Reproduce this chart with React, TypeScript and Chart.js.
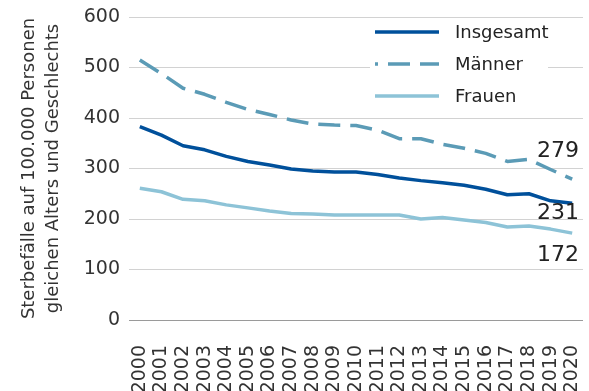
import React, { useEffect, useRef } from "react";
import { Chart, registerables } from "chart.js";

Chart.register(...registerables);

const years = ["2000","2001","2002","2003","2004","2005","2006","2007","2008","2009","2010","2011","2012","2013","2014","2015","2016","2017","2018","2019","2020"];
const insgesamt = [383, 366, 345, 337, 324, 314, 307, 299, 295, 293, 293, 288, 281, 276, 272, 267, 259, 248, 250, 236, 231];
const maenner = [515, 488, 459, 447, 431, 417, 407, 396, 388, 386, 385, 376, 359, 359, 348, 340, 330, 314, 318, 298, 279];
const frauen = [261, 254, 239, 236, 228, 222, 216, 211, 210, 208, 208, 208, 208, 200, 203, 198, 193, 184, 186, 180, 172];
const seriesNames = ["Insgesamt", "Männer", "Frauen"];
const endLabels = ["231", "279", "172"];
const yTitle = ["Sterbefälle auf 100.000 Personen", "gleichen Alters und Geschlechts"];

const colors = ["#00509b", "#5b9bb6", "#8dc3d7"];
const FONT = "'DejaVu Sans', sans-serif";

const overlayPlugin = {
  id: "overlay",
  afterDatasetsDraw(chart: any) {
    const ctx = chart.ctx;
    ctx.save();
    ctx.fillStyle = "#ffffff";
    ctx.fillRect(370, 20, 178, 94);
    const rows = [32, 64, 96];
    seriesNames.forEach((name, i) => {
      ctx.beginPath();
      ctx.lineWidth = 3.5;
      ctx.strokeStyle = colors[i];
      ctx.lineCap = "butt";
      if (i === 1) {
        ctx.setLineDash([22, 10]);
        ctx.lineDashOffset = 19;
      } else {
        ctx.setLineDash([]);
      }
      ctx.moveTo(375, rows[i]);
      ctx.lineTo(439, rows[i]);
      ctx.stroke();
      ctx.setLineDash([]);
      ctx.fillStyle = "#222222";
      ctx.font = `18px ${FONT}`;
      ctx.textAlign = "left";
      ctx.textBaseline = "middle";
      ctx.fillText(name, 455, rows[i] + 1);
    });
    const y = chart.scales.y;
    const offs = [10, -28, 22];
    const vals = [insgesamt[insgesamt.length - 1], maenner[maenner.length - 1], frauen[frauen.length - 1]];
    ctx.font = `22px ${FONT}`;
    ctx.fillStyle = "#222222";
    ctx.textAlign = "right";
    ctx.textBaseline = "middle";
    endLabels.forEach((t, i) => {
      ctx.fillText(t, 579, y.getPixelForValue(vals[i]) + offs[i]);
    });
    ctx.restore();
  },
};

export default function App() {
  const ref = useRef<HTMLCanvasElement>(null);
  useEffect(() => {
    if (!ref.current) return;
    const chart = new Chart(ref.current, {
      type: "line",
      data: {
        labels: years,
        datasets: [
          { label: seriesNames[0], data: insgesamt, borderColor: colors[0], borderWidth: 3.5, pointRadius: 0, borderJoinStyle: "round" },
          { label: seriesNames[1], data: maenner, borderColor: colors[1], borderWidth: 3.5, pointRadius: 0, borderDash: [22, 10], borderJoinStyle: "round" },
          { label: seriesNames[2], data: frauen, borderColor: colors[2], borderWidth: 3.5, pointRadius: 0, borderJoinStyle: "round" },
        ],
      },
      options: {
        animation: false,
        responsive: true,
        maintainAspectRatio: false,
        layout: { padding: { left: 0, right: 6, top: 17, bottom: 0 } },
        plugins: { legend: { display: false }, tooltip: { enabled: false } },
        scales: {
          x: {
            offset: true,
            grid: { display: false },
            border: { display: false },
            ticks: { maxRotation: 90, minRotation: 90, autoSkip: false, padding: 17, color: "#333333", font: { family: FONT, size: 19 } },
            afterFit: (s: any) => { s.height = 71; s.paddingLeft = 0; s.paddingRight = 0; },
          },
          y: {
            min: 0,
            max: 600,
            border: { display: false },
            grid: {
              drawTicks: false,
              color: (c: any) => (c.tick && c.tick.value === 0 ? "#9a9a9a" : "#d2d2d2"),
              lineWidth: 1,
            },
            ticks: { stepSize: 100, padding: 9, color: "#333333", font: { family: FONT, size: 19 } },
            title: {
              display: true,
              text: yTitle,
              color: "#333333",
              font: { family: FONT, size: 18, lineHeight: 1.3 },
              padding: { top: 18, bottom: 0 },
            },
            afterFit: (s: any) => { s.width = 129; s.paddingTop = 0; s.paddingBottom = 0; },
          },
        },
      },
      plugins: [overlayPlugin],
    });
    return () => chart.destroy();
  }, []);
  return (
    <div style={{ position: "absolute", left: 0, top: 0, width: 589, height: 391, background: "#fff" }}>
      <canvas ref={ref} />
    </div>
  );
}
